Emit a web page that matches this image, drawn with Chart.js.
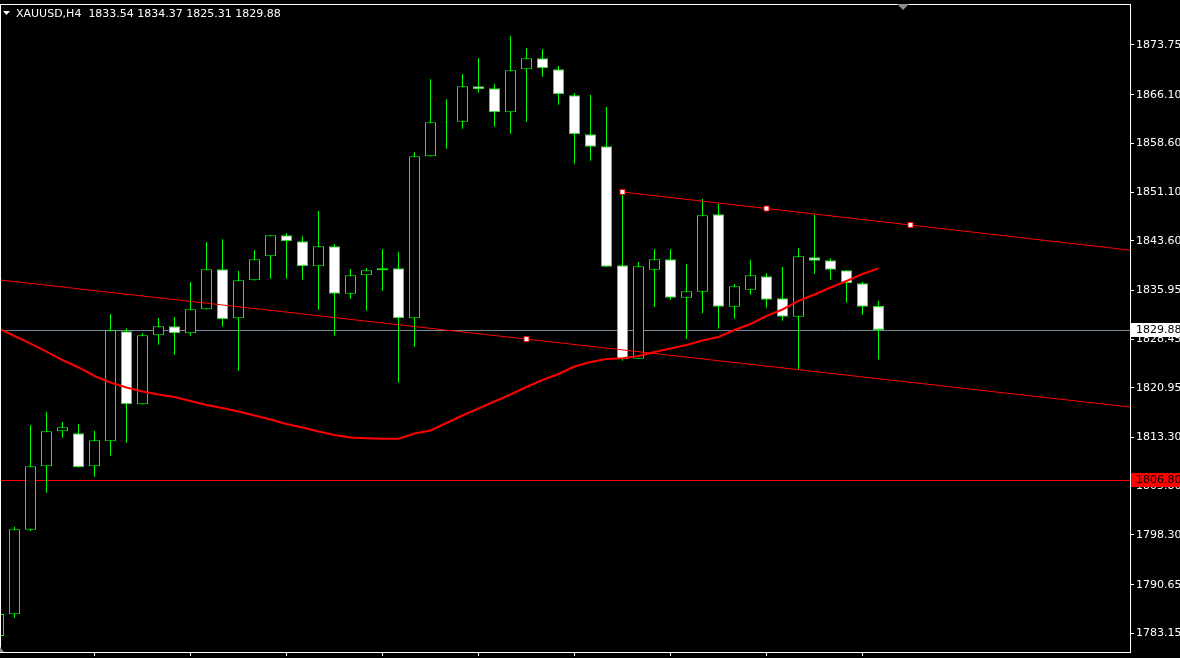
<!DOCTYPE html>
<html>
<head>
<meta charset="utf-8">
<script src="https://cdn.jsdelivr.net/npm/chart.js@4"></script>
<style>
  html, body { margin: 0; padding: 0; background: #000; }
  canvas { display: block; }
</style>
</head>
<body>
<canvas id="chart" width="1180" height="658"></canvas>
<script>
// XAUUSD H4 candles (index 0 is the partly hidden one on the left)
const opens = [1782.74, 1786.08, 1799.11, 1808.87, 1814.26, 1813.96, 1808.87, 1812.72, 1829.66, 1818.42,
  1829.05, 1830.43, 1829.35, 1833.05, 1839.21, 1831.66, 1837.52, 1841.21, 1844.45, 1843.52,
  1839.67, 1842.75, 1835.45, 1838.29, 1839.06, 1839.36, 1831.66, 1856.61, 1861.85, 1861.94,
  1867.39, 1867.08, 1863.39, 1870.01, 1871.70, 1870.01, 1866.00, 1860.00, 1858.15, 1839.83,
  1825.44, 1839.15, 1840.75, 1834.84, 1835.76, 1847.68, 1833.45, 1836.07, 1838.13, 1834.74,
  1831.91, 1841.06, 1840.60, 1839.06, 1837.05, 1833.54];
const highs = [1786.44, 1799.53, 1815.23, 1817.24, 1815.70, 1815.39, 1814.31, 1832.33, 1830.12, 1829.40,
  1831.71, 1831.86, 1837.25, 1843.41, 1843.83, 1838.95, 1842.18, 1844.47, 1844.80, 1844.29,
  1848.19, 1843.11, 1839.26, 1839.41, 1842.34, 1841.87, 1857.23, 1868.47, 1865.39, 1869.28,
  1871.75, 1867.74, 1875.14, 1873.29, 1873.13, 1870.52, 1866.36, 1866.05, 1864.20, 1850.91,
  1840.33, 1842.34, 1842.34, 1840.03, 1850.04, 1849.27, 1836.95, 1840.64, 1838.59, 1839.56,
  1842.49, 1847.62, 1840.90, 1839.08, 1837.30, 1834.37];
const lows = [1782.12, 1785.56, 1798.91, 1804.81, 1813.28, 1808.70, 1807.27, 1810.51, 1812.51, 1818.40,
  1827.60, 1826.06, 1828.98, 1833.03, 1830.37, 1823.60, 1837.50, 1837.76, 1837.76, 1837.61,
  1832.99, 1828.98, 1834.68, 1832.83, 1835.91, 1821.75, 1827.29, 1856.59, 1857.78, 1860.86,
  1866.40, 1861.17, 1860.09, 1861.94, 1868.87, 1864.56, 1855.47, 1855.93, 1839.59, 1825.14,
  1825.42, 1833.40, 1834.48, 1828.48, 1832.48, 1830.06, 1831.60, 1835.30, 1833.30, 1831.29,
  1823.86, 1838.53, 1837.61, 1834.07, 1832.22, 1825.31];
const closes = [1786.13, 1799.17, 1808.87, 1814.26, 1814.88, 1808.72, 1812.88, 1829.82, 1818.42, 1829.05,
  1830.43, 1829.35, 1833.05, 1839.21, 1831.51, 1837.52, 1840.75, 1844.45, 1843.52, 1839.67,
  1842.75, 1835.45, 1838.29, 1839.06, 1839.36, 1831.66, 1856.61, 1861.85, 1861.95, 1867.39,
  1866.93, 1863.39, 1869.85, 1871.70, 1870.16, 1866.16, 1860.00, 1858.09, 1839.61, 1825.35,
  1839.67, 1840.75, 1834.84, 1835.82, 1847.53, 1833.45, 1836.59, 1838.29, 1834.53, 1831.91,
  1841.21, 1840.53, 1839.15, 1837.05, 1833.45, 1829.88];

// moving average (red curve), one value per candle
const maValues = [1830.09, 1828.94, 1827.78, 1826.55, 1825.24, 1824.09, 1822.78, 1821.78, 1821.01, 1820.39,
  1819.93, 1819.55, 1818.93, 1818.31, 1817.85, 1817.31, 1816.70, 1816.08, 1815.39, 1814.85,
  1814.23, 1813.69, 1813.31, 1813.19, 1813.12, 1813.12, 1813.92, 1814.39, 1815.54, 1816.70,
  1817.77, 1818.85, 1819.93, 1821.09, 1822.16, 1823.09, 1824.24, 1824.94, 1825.40, 1825.50,
  1825.86, 1826.48, 1827.01, 1827.55, 1828.25, 1828.78, 1829.86, 1830.79, 1832.02, 1833.02,
  1834.33, 1835.33, 1836.41, 1837.41, 1838.49, 1839.36];

// drawn trend lines: [bar index, price], marker on the anchors
const lowerTrendIdx = [0, 33, 71];
const lowerTrendPrice = [1837.59, 1828.46, 1817.92];
const lowerTrendMark = [false, true, false];
const upperTrendIdx = [39, 48, 57, 71];
const upperTrendPrice = [1851.11, 1848.57, 1846.03, 1842.08];
const upperTrendMark = [true, true, true, false];

const priceTicks = [1873.75, 1866.10, 1858.60, 1851.10, 1843.60, 1835.95, 1828.45, 1820.95,
  1813.30, 1805.80, 1798.30, 1790.65, 1783.15];
const timeTicks = [6, 12, 18, 24, 30, 36, 42, 48, 54];

const bidPrice = 1829.88;
const alertPrice = 1806.80;
const header = 'XAUUSD,H4  1833.54 1834.37 1825.31 1829.88';

const GREEN = '#00ff00';
const RED = '#ff0000';
const FONT = 'DejaVu Sans';

const idx = opens.map((_, i) => i);
const wickData = idx.map(i => ({ x: i, y: [lows[i], highs[i]] }));
const bodyData = idx.map(i => ({ x: i, y: [opens[i], closes[i]] }));
const bodyFill = idx.map(i => closes[i] < opens[i] ? '#ffffff' : '#000000');

function trend(ix, pr) {
  return ix.map((x, k) => ({ x: x, y: pr[k] }));
}

function hline(ctx, area, py, color) {
  const y = Math.round(py) + 0.5;
  ctx.strokeStyle = color;
  ctx.lineWidth = 1;
  ctx.beginPath();
  ctx.moveTo(area.left, y);
  ctx.lineTo(area.right, y);
  ctx.stroke();
}

function priceTag(ctx, py, text, bg) {
  const y = Math.round(py);
  ctx.fillStyle = bg;
  ctx.fillRect(1131, y - 7, 49, 14);
  ctx.fillStyle = '#000';
  ctx.font = '11px "' + FONT + '"';
  ctx.textBaseline = 'middle';
  ctx.textAlign = 'left';
  ctx.fillText(text, 1136, y);
}

// keep the plot area edge to edge, no label overhang padding
function noPad(s) {
  s.paddingTop = 0; s.paddingBottom = 0; s.paddingLeft = 0; s.paddingRight = 0;
}

const decor = {
  id: 'decor',
  beforeDatasetsDraw(chart) {
    const { ctx, chartArea, scales } = chart;
    ctx.save();
    hline(ctx, chartArea, scales.y.getPixelForValue(bidPrice), '#778899');
    hline(ctx, chartArea, scales.y.getPixelForValue(alertPrice), RED);
    ctx.restore();
  },
  afterDraw(chart) {
    const { ctx, chartArea, scales } = chart;
    ctx.save();
    // frame
    ctx.strokeStyle = '#ffffff';
    ctx.lineWidth = 1;
    ctx.strokeRect(chartArea.left + 0.5, chartArea.top + 0.5,
      chartArea.right - chartArea.left, chartArea.bottom - chartArea.top);

    // header
    ctx.fillStyle = '#ffffff';
    ctx.beginPath();
    ctx.moveTo(3, 11); ctx.lineTo(10, 11); ctx.lineTo(6.5, 15); ctx.closePath();
    ctx.fill();
    ctx.font = '11px "' + FONT + '"';
    ctx.textBaseline = 'middle';
    ctx.fillText(header, 16, 14.5);

    // chart shift markers
    ctx.fillStyle = '#8c8c8c';
    ctx.beginPath();
    ctx.moveTo(897, 4); ctx.lineTo(909, 4); ctx.lineTo(903, 10); ctx.closePath();
    ctx.fill();
    ctx.beginPath();
    ctx.moveTo(0, 647); ctx.lineTo(4, 652); ctx.lineTo(0, 652); ctx.closePath();
    ctx.fill();

    // price tags on the axis
    priceTag(ctx, scales.y.getPixelForValue(bidPrice), bidPrice.toFixed(2), '#ffffff');
    priceTag(ctx, scales.y.getPixelForValue(alertPrice), alertPrice.toFixed(2), RED);
    ctx.restore();
  }
};

new Chart(document.getElementById('chart'), {
  type: 'bar',
  data: {
    datasets: [
      {
        type: 'line',
        data: maValues.map((v, i) => ({ x: i, y: v })),
        borderColor: RED,
        borderWidth: 2,
        pointRadius: 0,
        tension: 0,
        order: 0
      },
      {
        type: 'line',
        data: trend(lowerTrendIdx, lowerTrendPrice),
        borderColor: RED,
        borderWidth: 1,
        pointStyle: 'rect',
        pointRadius: lowerTrendMark.map(m => m ? 3.5 : 0),
        pointBackgroundColor: '#ffffff',
        pointBorderColor: RED,
        pointBorderWidth: 1,
        order: 0
      },
      {
        type: 'line',
        data: trend(upperTrendIdx, upperTrendPrice),
        borderColor: RED,
        borderWidth: 1,
        pointStyle: 'rect',
        pointRadius: upperTrendMark.map(m => m ? 3.5 : 0),
        pointBackgroundColor: '#ffffff',
        pointBorderColor: RED,
        pointBorderWidth: 1,
        order: 0
      },
      {
        data: bodyData,
        backgroundColor: bodyFill,
        borderColor: GREEN,
        borderWidth: 1,
        borderSkipped: false,
        inflateAmount: 0,
        grouped: false,
        maxBarThickness: 11,
        order: 1
      },
      {
        data: wickData,
        backgroundColor: GREEN,
        borderWidth: 0,
        inflateAmount: 0,
        grouped: false,
        maxBarThickness: 1,
        order: 2
      }
    ]
  },
  options: {
    responsive: false,
    animation: false,
    layout: { autoPadding: false, padding: { top: 4, left: 0, right: 0, bottom: 0 } },
    plugins: {
      legend: { display: false },
      tooltip: { enabled: false }
    },
    scales: {
      x: {
        type: 'linear',
        offset: false,
        min: 0.09375,
        max: 70.71875,
        afterBuildTicks: s => { s.ticks = timeTicks.map(v => ({ value: v })); },
        afterFit: s => { s.height = 6; noPad(s); },
        ticks: { display: false },
        grid: { offset: false, drawOnChartArea: false, drawTicks: true, tickLength: 4, color: '#ffffff' },
        border: { display: false }
      },
      y: {
        position: 'right',
        min: 1780.279,
        max: 1880.063,
        afterBuildTicks: s => { s.ticks = priceTicks.map(v => ({ value: v })); },
        afterFit: s => { s.width = 50; noPad(s); },
        ticks: {
          color: '#ffffff',
          padding: 2,
          autoSkip: false,
          font: { family: FONT, size: 11 },
          callback: v => Number(v).toFixed(2)
        },
        grid: { drawOnChartArea: false, drawTicks: true, tickLength: 4, color: '#ffffff' },
        border: { display: false }
      }
    }
  },
  plugins: [decor]
});
</script>
</body>
</html>
